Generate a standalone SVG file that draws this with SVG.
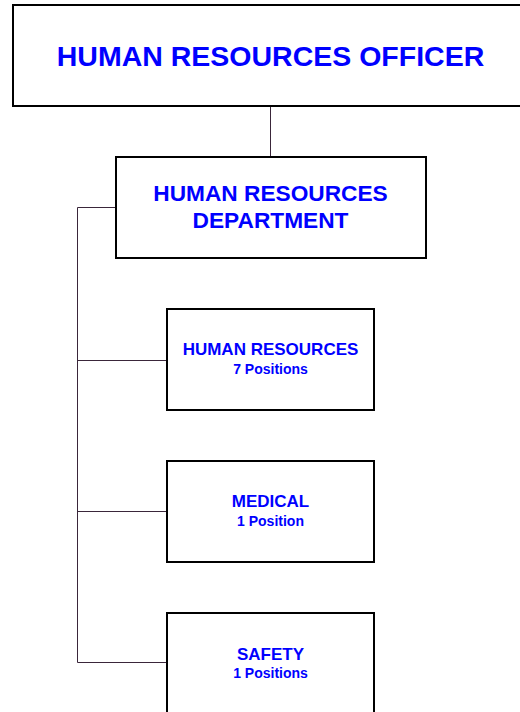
<svg xmlns="http://www.w3.org/2000/svg" width="520" height="712" viewBox="0 0 520 712">
<style>
.box{fill:#fff;stroke:#000;stroke-width:2}
.t{font-family:"Liberation Sans",Arial,sans-serif;font-weight:bold;fill:#0000ff;text-anchor:middle}
.c{stroke:#3a263a;stroke-width:1;fill:none}
</style>
<rect width="520" height="712" fill="#fff"/>
<g id="connectors">
<line class="c" x1="270.5" y1="106" x2="270.5" y2="157"/>
<polyline class="c" points="116,207.5 77.5,207.5 77.5,662.5 167,662.5"/>
<line class="c" x1="77.5" y1="360.5" x2="167" y2="360.5"/>
<line class="c" x1="77.5" y1="511.5" x2="167" y2="511.5"/>
</g>
<g id="officer">
<rect class="box" x="13" y="5" width="520" height="101"/>
<text class="t" x="270.5" y="65.5" font-size="28.5">HUMAN RESOURCES OFFICER</text>
</g>
<g id="department">
<rect class="box" x="116" y="157" width="310" height="101"/>
<text class="t" x="270.5" y="200.5" font-size="22.7">HUMAN RESOURCES</text>
<text class="t" x="270.5" y="227.5" font-size="22.7">DEPARTMENT</text>
</g>
<g id="human-resources">
<rect class="box" x="167" y="309" width="207" height="101"/>
<text class="t" x="270.5" y="355" font-size="17">HUMAN RESOURCES</text>
<text class="t" x="270.5" y="374" font-size="14">7 Positions</text>
</g>
<g id="medical">
<rect class="box" x="167" y="461" width="207" height="101"/>
<text class="t" x="270.5" y="507" font-size="17">MEDICAL</text>
<text class="t" x="270.5" y="525.5" font-size="14">1 Position</text>
</g>
<g id="safety">
<rect class="box" x="167" y="613" width="207" height="101"/>
<text class="t" x="270.5" y="660" font-size="17">SAFETY</text>
<text class="t" x="270.5" y="677.5" font-size="14">1 Positions</text>
</g>
</svg>
